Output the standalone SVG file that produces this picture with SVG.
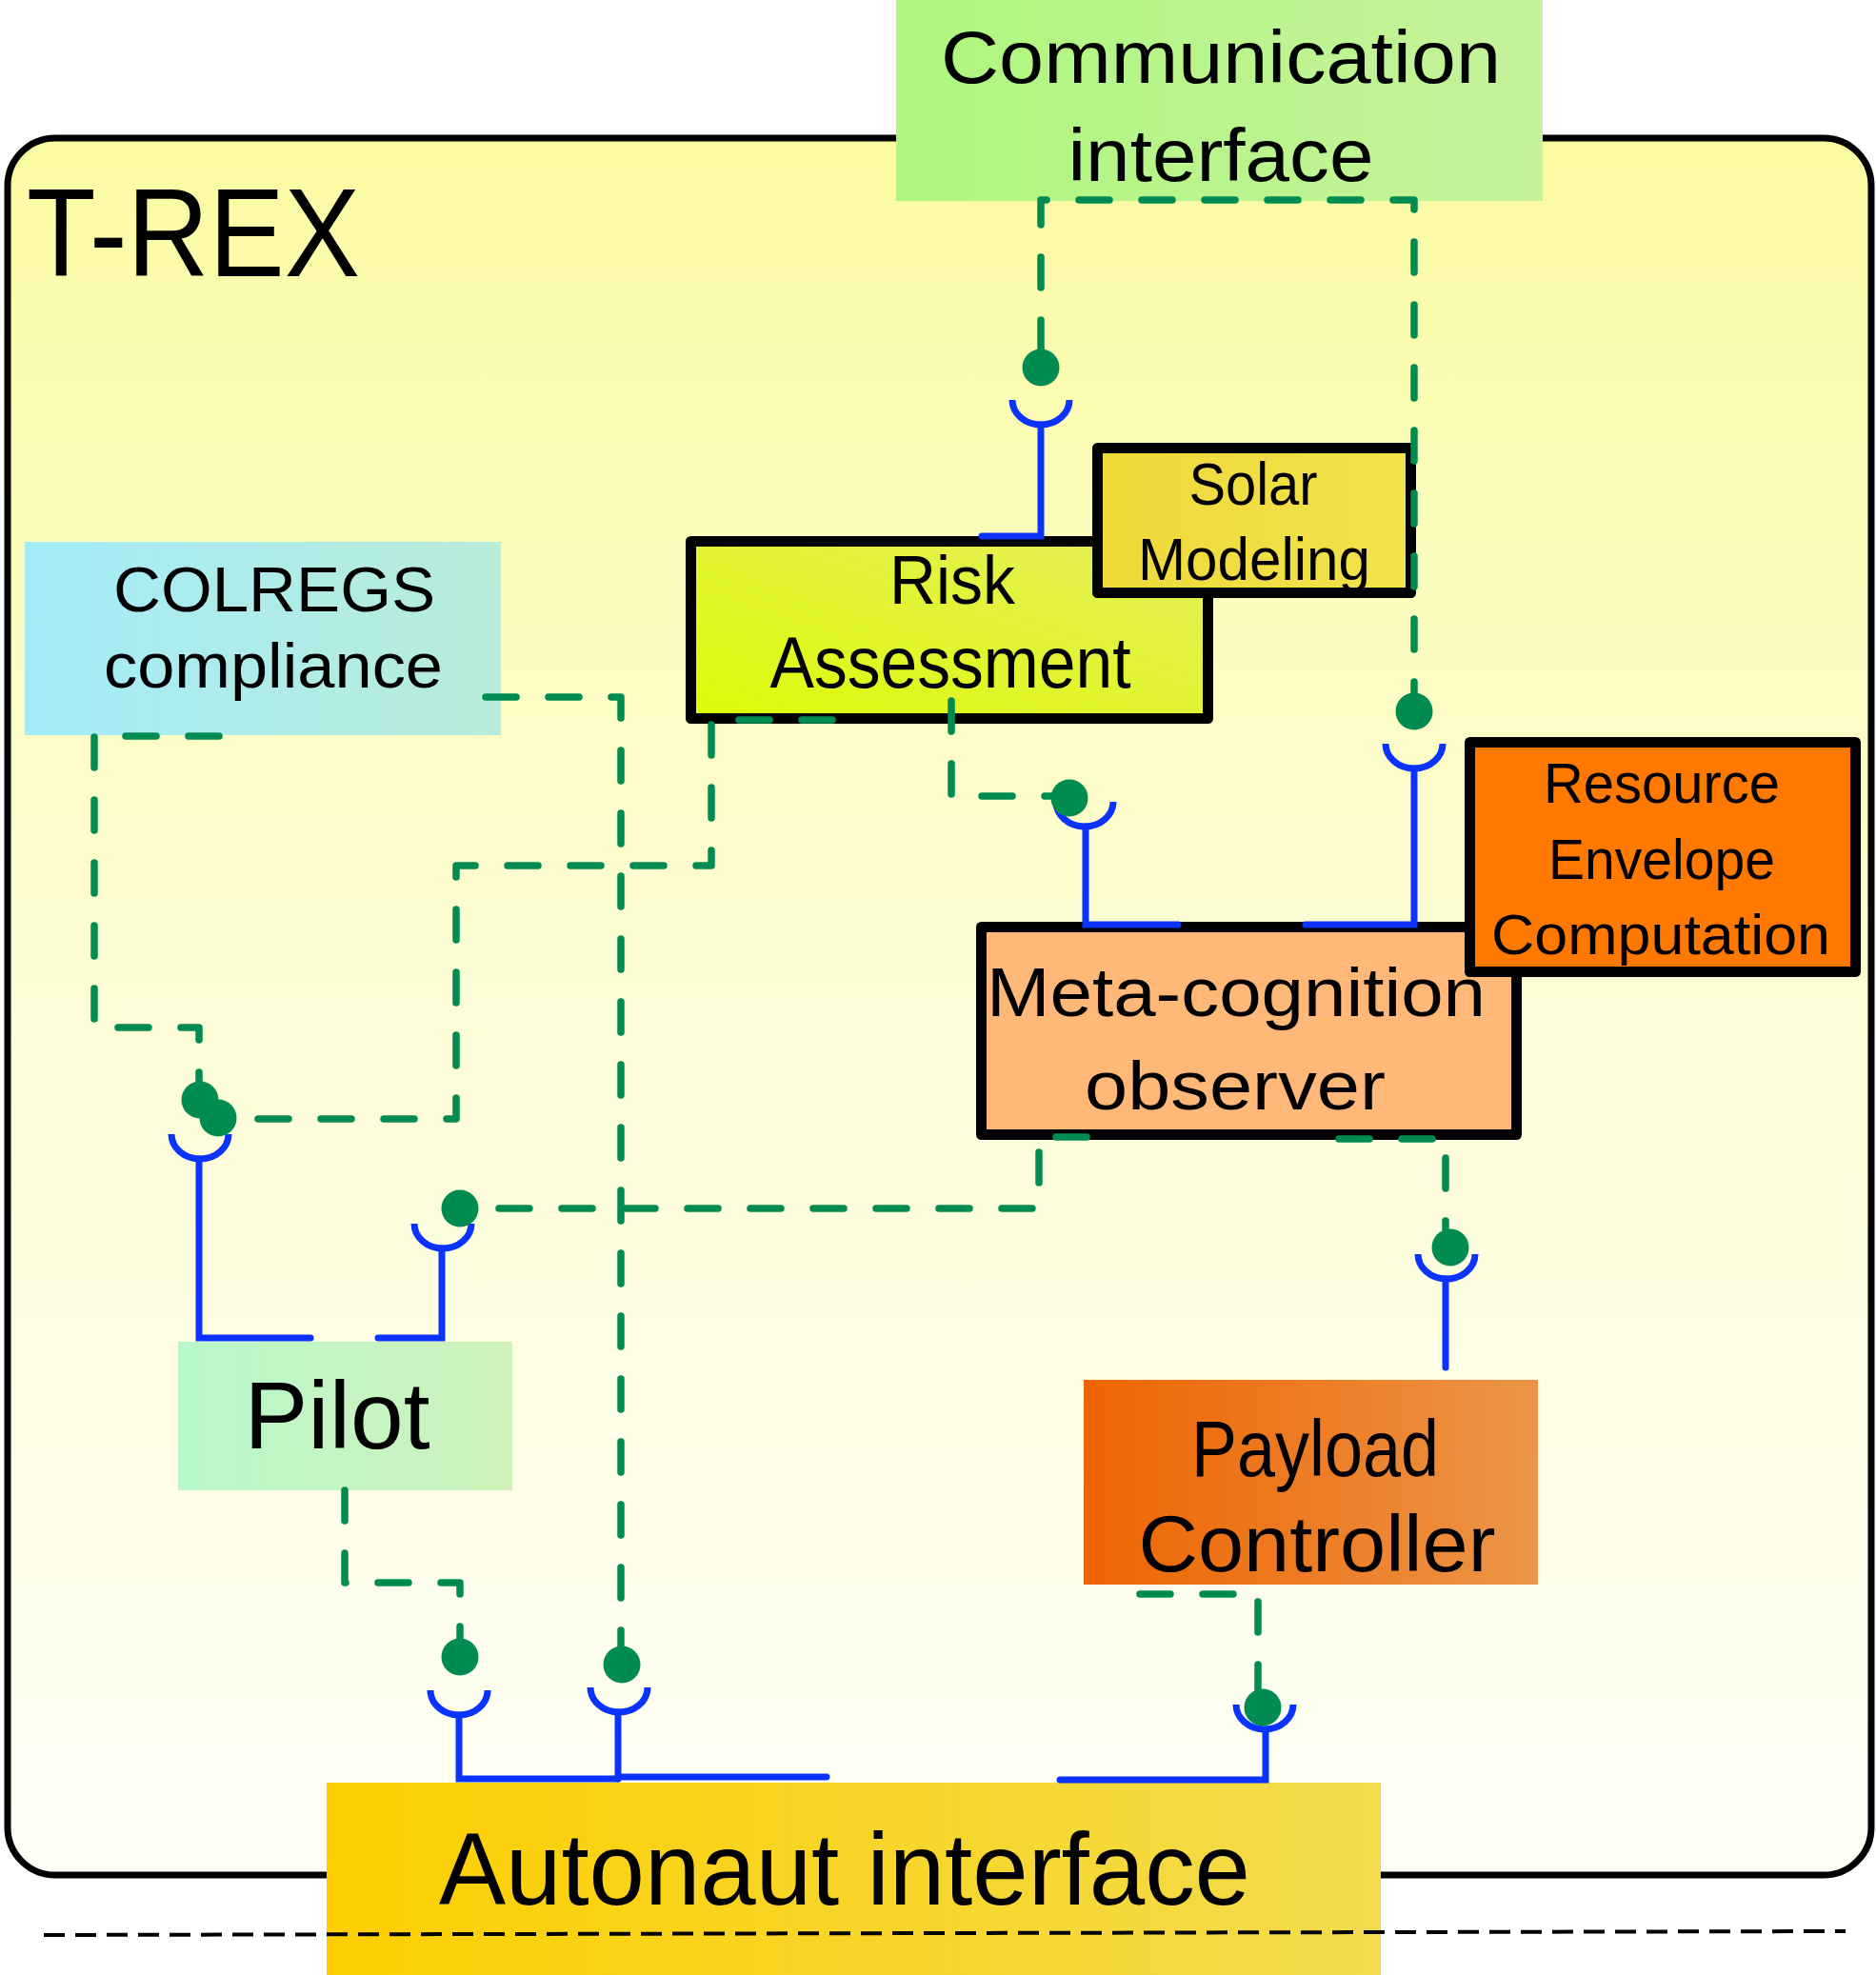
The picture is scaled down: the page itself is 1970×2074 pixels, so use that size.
<svg xmlns="http://www.w3.org/2000/svg" width="1970" height="2074" viewBox="0 0 1970 2074">
<defs>
<linearGradient id="gBg" x1="0" y1="0" x2="0" y2="1">
<stop offset="0" stop-color="#FBFBA3"/><stop offset="0.5" stop-color="#FCFCD6"/><stop offset="1" stop-color="#FFFFF7"/>
</linearGradient>
<linearGradient id="gComm" x1="0" y1="0" x2="1" y2="0"><stop offset="0" stop-color="#ADF77E"/><stop offset="1" stop-color="#C6F29B"/></linearGradient>
<linearGradient id="gCol" x1="0" y1="0" x2="1" y2="0"><stop offset="0" stop-color="#A4ECF9"/><stop offset="1" stop-color="#B9ECDA"/></linearGradient>
<linearGradient id="gRisk" x1="0" y1="1" x2="1" y2="0"><stop offset="0" stop-color="#DEFA08"/><stop offset="1" stop-color="#E6EE5C"/></linearGradient>
<linearGradient id="gSolar" x1="0" y1="0" x2="1" y2="0"><stop offset="0" stop-color="#EFD93A"/><stop offset="1" stop-color="#F2E24C"/></linearGradient>
<linearGradient id="gPilot" x1="0" y1="0" x2="1" y2="0"><stop offset="0" stop-color="#B8F8CB"/><stop offset="1" stop-color="#CFF2BA"/></linearGradient>
<linearGradient id="gPay" x1="0" y1="0" x2="1" y2="0"><stop offset="0" stop-color="#EE6400"/><stop offset="1" stop-color="#EC9549"/></linearGradient>
<linearGradient id="gAuto" x1="0" y1="0" x2="1" y2="0"><stop offset="0" stop-color="#FDCF00"/><stop offset="1" stop-color="#F3DB4E"/></linearGradient>
</defs>
<style>
text{font-family:"Liberation Sans",Arial,sans-serif;fill:#000;text-anchor:middle}
.bx{stroke:#000;stroke-width:11;stroke-linejoin:round}
.dash{fill:none;stroke:#008C50;stroke-width:7.5;stroke-dasharray:32 34;stroke-linecap:round;stroke-linejoin:round}
.blue{fill:none;stroke:#0B33FF;stroke-width:7;stroke-linecap:round}
.cup{fill:none;stroke:#0B33FF;stroke-width:7}
.ball{fill:#008C50}
</style>

<g id="trex">
<rect x="8" y="145" width="1957" height="1824" rx="50" ry="50" fill="url(#gBg)" stroke="#000" stroke-width="7"/>
<text x="28" y="290" font-size="131" style="text-anchor:start" textLength="350" lengthAdjust="spacingAndGlyphs">T-REX</text>
</g>

<g id="communication-interface">
<rect x="941" y="0" width="679" height="211" fill="url(#gComm)"/>
<text x="1282" y="87" font-size="78" textLength="588" lengthAdjust="spacingAndGlyphs">Communication</text>
<text x="1282" y="190" font-size="78" textLength="321" lengthAdjust="spacingAndGlyphs">interface</text>
</g>

<g id="colregs-compliance">
<rect x="26" y="569" width="500" height="203" fill="url(#gCol)"/>
<text x="288" y="642" font-size="66" textLength="338" lengthAdjust="spacingAndGlyphs">COLREGS</text>
<text x="287" y="722" font-size="66" textLength="356" lengthAdjust="spacingAndGlyphs">compliance</text>
</g>

<g id="risk-assessment">
<rect class="bx" x="725.5" y="568.5" width="543" height="186" fill="url(#gRisk)"/>
<text x="1000" y="634" font-size="72" textLength="132" lengthAdjust="spacingAndGlyphs">Risk</text>
<text x="998" y="722" font-size="76" textLength="379" lengthAdjust="spacingAndGlyphs">Assessment</text>
</g>

<g id="solar-modeling">
<rect class="bx" x="1152.5" y="470.5" width="329" height="152" fill="url(#gSolar)"/>
<text x="1316" y="530" font-size="63" textLength="135" lengthAdjust="spacingAndGlyphs">Solar</text>
<text x="1317" y="609" font-size="63" textLength="244" lengthAdjust="spacingAndGlyphs">Modeling</text>
</g>

<g id="meta-cognition-observer">
<rect class="bx" x="1030.5" y="973.5" width="562" height="218" fill="#FFB877"/>
<text x="1298" y="1067" font-size="73" textLength="524" lengthAdjust="spacingAndGlyphs">Meta-cognition</text>
<text x="1297" y="1165" font-size="73" textLength="316" lengthAdjust="spacingAndGlyphs">observer</text>
</g>

<g id="resource-envelope-computation">
<rect class="bx" x="1543.5" y="779.5" width="405" height="241" fill="#FF7800"/>
<text x="1745" y="843" font-size="60" textLength="248" lengthAdjust="spacingAndGlyphs">Resource</text>
<text x="1745" y="923" font-size="60" textLength="238" lengthAdjust="spacingAndGlyphs">Envelope</text>
<text x="1744" y="1002" font-size="60" textLength="356" lengthAdjust="spacingAndGlyphs">Computation</text>
</g>

<g id="pilot">
<rect x="187" y="1409" width="351" height="156" fill="url(#gPilot)"/>
<text x="354" y="1521" font-size="100" textLength="195" lengthAdjust="spacingAndGlyphs">Pilot</text>
</g>

<g id="payload-controller">
<rect x="1138" y="1449" width="477" height="215" fill="url(#gPay)"/>
<text x="1381" y="1550" font-size="84" textLength="260" lengthAdjust="spacingAndGlyphs">Payload</text>
<text x="1383" y="1650" font-size="84" textLength="375" lengthAdjust="spacingAndGlyphs">Controller</text>
</g>

<g id="autonaut-interface">
<rect x="343" y="1872" width="1107" height="202" fill="url(#gAuto)"/>
<text x="887" y="2000" font-size="107" textLength="852" lengthAdjust="spacingAndGlyphs">Autonaut interface</text>
</g>

<g id="connectors">
<!-- provided interfaces (blue sockets) -->
<path class="cup" d="M1063,420 A30,26 0 0 0 1123,420"/>
<path class="blue" d="M1093,446 V563 H1031" stroke-linejoin="miter"/>
<path class="cup" d="M1109,842 A30,26 0 0 0 1169,842"/>
<path class="blue" d="M1140,868 V971 H1237"/>
<path class="cup" d="M1455,781 A30,26 0 0 0 1515,781"/>
<path class="blue" d="M1485,807 V971 H1371"/>
<path class="cup" d="M180,1191 A30,26 0 0 0 240,1191"/>
<path class="blue" d="M209,1217 V1405 H326"/>
<path class="cup" d="M435,1285 A30,26 0 0 0 495,1285"/>
<path class="blue" d="M464,1311 V1405 H397"/>
<path class="cup" d="M1489,1317 A30,26 0 0 0 1549,1317"/>
<path class="blue" d="M1518,1343 V1436"/>
<path class="cup" d="M452,1775 A30,26 0 0 0 512,1775"/>
<path class="blue" d="M482,1801 V1868 H649"/>
<path class="cup" d="M620,1772 A30,26 0 0 0 680,1772"/>
<path class="blue" d="M649,1798 V1868"/>
<path class="blue" d="M649,1866 H868" stroke-width="10"/>
<path class="cup" d="M1298,1790 A30,26 0 0 0 1358,1790"/>
<path class="blue" d="M1329,1816 V1869 H1113"/>
<!-- required interfaces (green dashed) -->
<path class="dash" d="M1093,368 V210 H1485 V728"/>
<path class="dash" d="M230,773 H99 V1079 H209 V1136"/>
<path class="dash" d="M874,756 H747 V909 H479 V1175 H248"/>
<path class="dash" d="M510,732 H652 V1728"/>
<path class="dash" d="M999,736 V836 H1104"/>
<path class="dash" d="M1141,1194 H1091 V1269 H502"/>
<path class="dash" d="M1406,1196 H1518 V1291"/>
<path class="dash" d="M362,1565 V1662 H483 V1721"/>
<path class="dash" d="M1197,1674 H1321 V1775"/>
<circle class="ball" cx="1093" cy="386" r="19.5"/>
<circle class="ball" cx="1485" cy="747" r="19.5"/>
<circle class="ball" cx="1123" cy="838" r="19.5"/>
<circle class="ball" cx="210" cy="1155" r="19.5"/>
<circle class="ball" cx="229" cy="1174" r="19.5"/>
<circle class="ball" cx="483" cy="1269" r="19.5"/>
<circle class="ball" cx="1523" cy="1310" r="19.5"/>
<circle class="ball" cx="483" cy="1740" r="19.5"/>
<circle class="ball" cx="653" cy="1748" r="19.5"/>
<circle class="ball" cx="1326" cy="1793" r="19.5"/>
</g>

<line x1="46" y1="2032" x2="1938" y2="2028" stroke="#000" stroke-width="4" stroke-dasharray="22 11"/>
</svg>
